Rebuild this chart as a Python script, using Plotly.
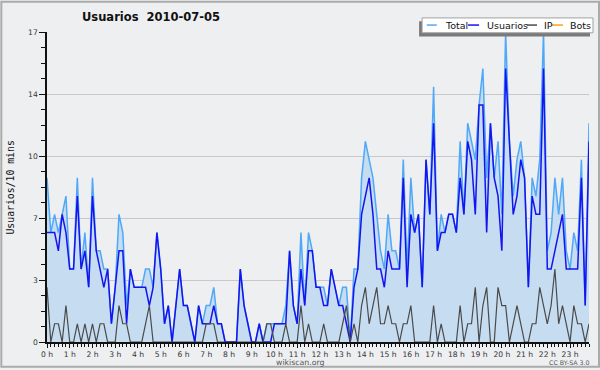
import plotly.graph_objects as go

# ---- data (10-minute slots, 2010-07-05) ----
slots = list(range(144))
usuarios = [6, 6, 6, 5, 7, 6, 4, 4, 8, 4, 5, 3, 8, 5, 4, 3, 4, 1, 3, 5, 5, 1, 4, 3,
            3, 3, 3, 2, 3, 6, 4, 1, 2, 0, 2, 4, 2, 2, 1, 0, 2, 1, 1, 1, 2, 1, 1, 0,
            0, 0, 0, 4, 2, 1, 0, 0, 1, 0, 0, 0, 1, 1, 1, 1, 5, 2, 1, 4, 2, 5, 5, 3,
            3, 2, 2, 4, 3, 2, 2, 1, 0, 3, 4, 7, 8, 9, 7, 4, 4, 3, 5, 4, 4, 4, 9, 3,
            7, 6, 7, 3, 10, 7, 12, 5, 6, 6, 7, 7, 6, 9, 7, 11, 10, 7, 13, 13, 6, 12, 9, 8,
            5, 15, 11, 7, 8, 10, 9, 3, 8, 7, 7, 15, 4, 4, 5, 6, 7, 4, 4, 4, 4, 9, 2, 11]
ip = [3, 0, 1, 1, 0, 2, 0, 0, 1, 0, 1, 0, 1, 0, 1, 1, 0, 0, 0, 2, 1, 1, 0, 0,
      0, 0, 1, 2, 0, 0, 0, 0, 0, 0, 0, 0, 0, 0, 0, 0, 0, 0, 1, 1, 1, 0, 0, 0,
      0, 0, 0, 0, 0, 0, 0, 0, 0, 0, 1, 1, 0, 0, 0, 1, 0, 0, 0, 2, 0, 1, 0, 0,
      0, 1, 0, 0, 0, 0, 1, 2, 0, 1, 0, 2, 3, 1, 2, 3, 1, 1, 2, 1, 1, 0, 1, 1,
      2, 0, 0, 0, 0, 0, 2, 0, 1, 0, 0, 0, 0, 2, 0, 1, 1, 3, 0, 2, 3, 0, 0, 3,
      2, 2, 0, 1, 2, 1, 0, 0, 1, 1, 3, 2, 1, 2, 4, 1, 2, 1, 0, 2, 1, 1, 0, 1]
total = [9, 6, 7, 6, 7, 8, 4, 4, 9, 4, 6, 3, 9, 5, 5, 4, 4, 1, 3, 7, 6, 2, 4, 3,
         3, 3, 4, 4, 3, 6, 4, 1, 2, 0, 2, 4, 2, 2, 1, 0, 2, 1, 2, 2, 3, 1, 1, 0,
         0, 0, 0, 4, 2, 1, 0, 0, 1, 0, 1, 1, 1, 1, 1, 2, 5, 2, 1, 6, 2, 6, 5, 3,
         3, 3, 2, 4, 3, 2, 3, 3, 0, 4, 4, 9, 11, 10, 9, 7, 5, 4, 7, 5, 5, 4, 10, 4,
         9, 6, 7, 3, 10, 7, 14, 5, 7, 6, 7, 7, 6, 11, 7, 12, 11, 10, 13, 15, 9, 12, 9, 11,
         7, 17, 11, 8, 10, 11, 9, 3, 9, 8, 10, 17, 5, 6, 9, 7, 9, 5, 4, 6, 5, 10, 2, 12]
hour_ticks = [0, 6, 12, 18, 24, 30, 36, 42, 48, 54, 60, 66, 72, 78, 84, 90, 96, 102,
              108, 114, 120, 126, 132, 138]
hour_labels = ["0 h", "1 h", "2 h", "3 h", "4 h", "5 h", "6 h", "7 h", "8 h", "9 h",
               "10 h", "11 h", "12 h", "13 h", "14 h", "15 h", "16 h", "17 h", "18 h",
               "19 h", "20 h", "21 h", "22 h", "23 h"]
y_ticks = [0, 3.4, 6.8, 10.2, 13.6, 17]
y_labels = ["0", "3", "7", "10", "14", "17"]
legend_names = ["Total", "Usuarios", "IP", "Bots"]

# ---- style ----
W, H = 600, 370
L, R, T, B = 46.7, 11, 31.5, 26
PW, PH = W - L - R, H - T - B
BG = "#EEEFF1"
C_TOTAL, C_USER, C_IP, C_BOTS = "#4FA8F8", "#1414F0", "#4A4A4A", "#FFA010"
FILL = "#C6DCF0"
FONT = "DejaVu Sans"


def px(x):
    return (x - L) / PW


def py(y):
    return (H - B - y) / PH


fig = go.Figure()
fig.add_trace(go.Scatter(x=slots, y=total, mode="lines", fill="tozeroy",
                         fillcolor=FILL, line=dict(color=C_TOTAL, width=1.5),
                         name=legend_names[0]))
fig.add_trace(go.Scatter(x=slots, y=usuarios, mode="lines",
                         line=dict(color=C_USER, width=1.5), name=legend_names[1]))
fig.add_trace(go.Scatter(x=slots, y=ip, mode="lines",
                         line=dict(color=C_IP, width=1.2), name=legend_names[2]))

shapes = []
annotations = []

# figure border
shapes.append(dict(type="rect", xref="paper", yref="paper",
                   x0=px(1), x1=px(599), y0=py(369), y1=py(1),
                   line=dict(color="#ABABAB", width=2), layer="below"))

# legend (drawn by hand to match the compact original)
shapes.append(dict(type="rect", xref="paper", yref="paper",
                   x0=px(419), x1=px(590), y0=py(36), y1=py(20.7),
                   fillcolor="#7A7A7A", line=dict(width=0)))
shapes.append(dict(type="rect", xref="paper", yref="paper",
                   x0=px(422), x1=px(593), y0=py(32.3), y1=py(17.3),
                   fillcolor="white", line=dict(color="#A0A0A0", width=1)))
leg_items = [(426.7, 436.7, 442.5, C_TOTAL), (468, 479, 484.5, C_USER),
             (526.7, 537, 541.5, C_IP), (551.7, 563, 567.5, C_BOTS)]
for (lx0, lx1, tx, col), name in zip(leg_items, legend_names):
    shapes.append(dict(type="line", xref="paper", yref="paper",
                       x0=px(lx0), x1=px(lx1), y0=py(24.5), y1=py(24.5),
                       line=dict(color=col, width=1.5)))
    annotations.append(dict(text=name, xref="paper", yref="paper", x=px(tx), y=py(24.8),
                            xanchor="left", yanchor="middle", showarrow=False,
                            font=dict(family=FONT, size=9.5, color="#111")))

# title
annotations.append(dict(text="Usuarios\u00a0 2010-07-05", xref="paper", yref="paper",
                        x=px(151), y=py(16), xanchor="center", yanchor="middle",
                        showarrow=False,
                        font=dict(family=FONT, size=11.5, color="#111", weight="bold")))
# y axis title
annotations.append(dict(text="Usuarios/10 mins", xref="paper", yref="paper",
                        x=px(10), y=py(188), xanchor="center", yanchor="middle",
                        textangle=-90, showarrow=False,
                        font=dict(family="DejaVu Sans Mono", size=9.8, color="#111")))
# footer
annotations.append(dict(text="wikiscan.org", xref="paper", yref="paper",
                        x=px(300), y=py(364.5), xanchor="center", yanchor="middle",
                        showarrow=False, font=dict(family=FONT, size=7.8, color="#555")))
annotations.append(dict(text="CC BY-SA 3.0", xref="paper", yref="paper",
                        x=px(569), y=py(365), xanchor="center", yanchor="middle",
                        showarrow=False, font=dict(family=FONT, size=6.3, color="#555")))

fig.update_layout(
    width=W, height=H,
    margin=dict(l=L, r=R, t=T, b=B, pad=0),
    paper_bgcolor=BG, plot_bgcolor=BG,
    showlegend=False,
    shapes=shapes, annotations=annotations,
    xaxis=dict(range=[0, 143], tickmode="array", tickvals=hour_ticks,
               ticktext=hour_labels, ticks="outside", ticklen=4, tickcolor="#111",
               tickwidth=1, showgrid=False, zeroline=False,
               showline=True, linecolor="#111", linewidth=1.5,
               tickfont=dict(family=FONT, size=7.6, color="#333"),
               minor=dict(dtick=1, tick0=0, ticklen=3, tickcolor="#111",
                          ticks="outside", showgrid=False)),
    yaxis=dict(range=[0, 17], tickmode="array", tickvals=y_ticks, ticktext=y_labels,
               ticks="outside", ticklen=6, tickcolor="#111", tickwidth=1,
               showgrid=True, gridcolor="#C8C8CC", gridwidth=1, zeroline=False,
               showline=True, linecolor="#111", linewidth=1.5,
               tickfont=dict(family=FONT, size=7.6, color="#333"),
               minor=dict(dtick=0.85, tick0=0, ticklen=4, tickcolor="#111",
                          ticks="outside", showgrid=False)),
)

fig.write_html("out.html", config={"displayModeBar": False},
               post_script="document.body.style.margin='0';")
